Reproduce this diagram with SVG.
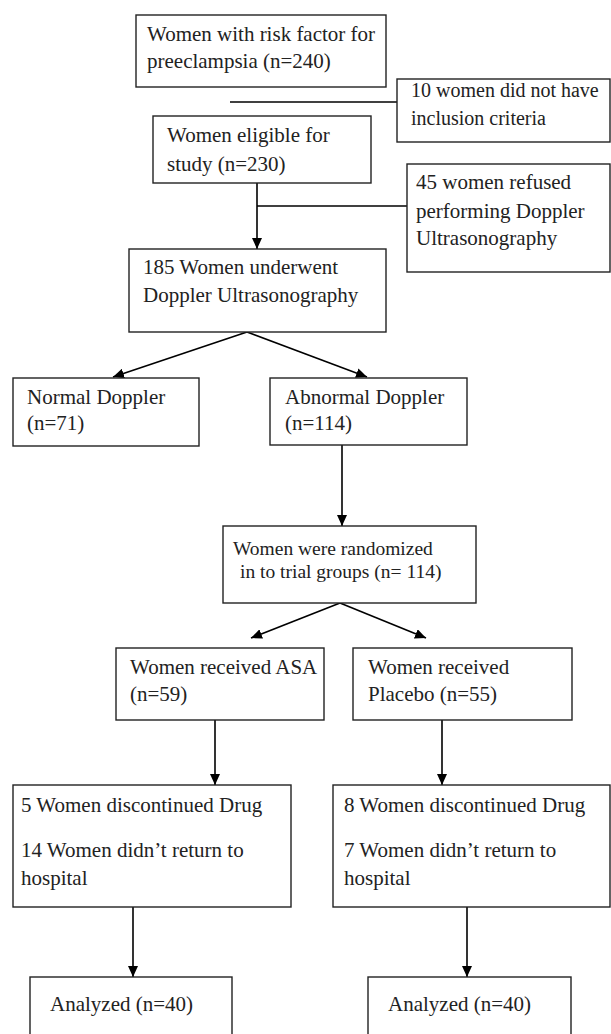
<svg xmlns="http://www.w3.org/2000/svg" width="611" height="1034" viewBox="0 0 611 1034">
<style>
.box{fill:#fff;stroke:#222;stroke-width:1.4}
.t{font-family:"Liberation Serif",serif;font-size:21px;fill:#222}
.s{font-size:20px}
.r{font-size:19.5px}
.ln{stroke:#000;stroke-width:1.6;fill:none}
.ar{stroke:#000;stroke-width:1.6;fill:none;marker-end:url(#ah)}
</style>
<defs>
<marker id="ah" markerUnits="userSpaceOnUse" markerWidth="11" markerHeight="10" refX="11" refY="5" orient="auto">
<path d="M0,0 L11,5 L0,10 z" fill="#000"/>
</marker>
</defs>
<rect width="611" height="1034" fill="#fff"/>
<g id="connectors">
<line class="ln" x1="230" y1="102" x2="397" y2="102"/>
<line class="ln" x1="257" y1="206" x2="407" y2="206"/>
<line class="ar" x1="257" y1="183" x2="257" y2="249"/>
<line class="ar" x1="247" y1="332" x2="113" y2="377"/>
<line class="ar" x1="247" y1="332" x2="367" y2="377"/>
<line class="ar" x1="342" y1="445" x2="342" y2="526"/>
<line class="ar" x1="340" y1="603" x2="251" y2="638"/>
<line class="ar" x1="340" y1="603" x2="426" y2="638"/>
<line class="ar" x1="215" y1="720" x2="215" y2="785"/>
<line class="ar" x1="442" y1="720" x2="442" y2="785"/>
<line class="ar" x1="133" y1="907" x2="133" y2="977"/>
<line class="ar" x1="467" y1="907" x2="467" y2="977"/>
</g>
<g id="n1"><rect class="box" x="136" y="15" width="250" height="72"/>
<text class="t" x="147" y="41">Women with risk factor for</text>
<text class="t" x="147" y="68">preeclampsia (n=240)</text></g>
<g id="n2"><rect class="box" x="397" y="79" width="213" height="63"/>
<text class="t s" x="411" y="97">10 women did not have</text>
<text class="t s" x="411" y="125">inclusion criteria</text></g>
<g id="n3"><rect class="box" x="153" y="116" width="218" height="67"/>
<text class="t" x="167" y="142">Women eligible for</text>
<text class="t" x="167" y="171">study (n=230)</text></g>
<g id="n4"><rect class="box" x="407" y="164" width="203" height="108"/>
<text class="t" x="416" y="189">45 women refused</text>
<text class="t" x="416" y="218">performing Doppler</text>
<text class="t" x="416" y="245">Ultrasonography</text></g>
<g id="n5"><rect class="box" x="129" y="249" width="257" height="83"/>
<text class="t" x="143" y="274">185 Women underwent</text>
<text class="t" x="143" y="302">Doppler Ultrasonography</text></g>
<g id="n6"><rect class="box" x="13" y="378" width="186" height="68"/>
<text class="t" x="27" y="404">Normal Doppler</text>
<text class="t" x="27" y="430">(n=71)</text></g>
<g id="n7"><rect class="box" x="270" y="378" width="197" height="67"/>
<text class="t" x="285" y="404">Abnormal Doppler</text>
<text class="t" x="285" y="430">(n=114)</text></g>
<g id="n8"><rect class="box" x="223" y="526" width="253" height="77"/>
<text class="t r" x="233" y="555">Women were randomized</text>
<text class="t r" x="240" y="578">in to trial groups (n= 114)</text></g>
<g id="n9"><rect class="box" x="116" y="648" width="208" height="72"/>
<text class="t" x="130" y="674">Women received ASA</text>
<text class="t" x="130" y="701">(n=59)</text></g>
<g id="n10"><rect class="box" x="353" y="648" width="219" height="72"/>
<text class="t" x="368" y="674">Women received</text>
<text class="t" x="368" y="701">Placebo (n=55)</text></g>
<g id="n11"><rect class="box" x="13" y="785" width="278" height="122"/>
<text class="t" x="21" y="812">5 Women discontinued Drug</text>
<text class="t" x="21" y="857">14 Women didn’t return to</text>
<text class="t" x="21" y="885">hospital</text></g>
<g id="n12"><rect class="box" x="333" y="785" width="277" height="122"/>
<text class="t" x="344" y="812">8 Women discontinued Drug</text>
<text class="t" x="344" y="857">7 Women didn’t return to</text>
<text class="t" x="344" y="885">hospital</text></g>
<g id="n13"><rect class="box" x="30" y="977" width="202" height="70"/>
<text class="t" x="50" y="1011">Analyzed (n=40)</text></g>
<g id="n14"><rect class="box" x="368" y="977" width="203" height="70"/>
<text class="t" x="388" y="1011">Analyzed (n=40)</text></g>
</svg>
